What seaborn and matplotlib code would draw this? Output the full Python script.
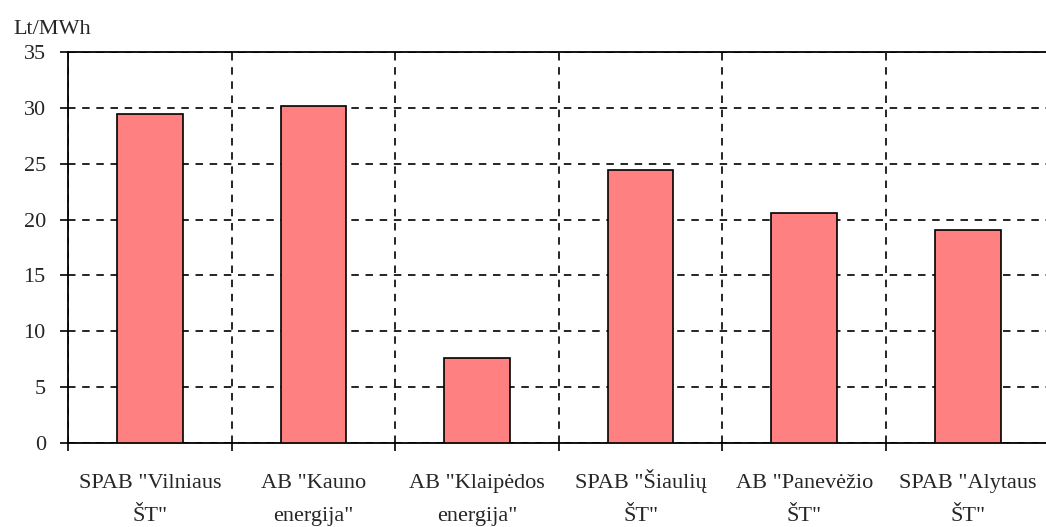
import numpy as np
import pandas as pd
import matplotlib
matplotlib.use('Agg')
import matplotlib.pyplot as plt
import seaborn as sns

# data
companies = ['SPAB "Vilniaus\nŠT"', 'AB "Kauno\nenergija"', 'AB "Klaipėdos\nenergija"',
             'SPAB "Šiaulių\nŠT"', 'AB "Panevėžio\nŠT"', 'SPAB "Alytaus\nŠT"']
values = [29.45, 30.2, 7.65, 24.45, 20.55, 19.1]
y_ticks = [0, 5, 10, 15, 20, 25, 30, 35]
unit_label = 'Lt/MWh'

W, H = 1046, 527
FS = 16

sns.set_style('white')
plt.rcParams['font.family'] = ['Liberation Serif', 'DejaVu Serif']

df = pd.DataFrame({'company': companies, 'value': values})

fig = plt.figure(figsize=(W / 100, H / 100), dpi=100)
ax = fig.add_axes([68 / W, 84 / H, 981.6 / W, 391 / H])

sns.barplot(data=df, x='company', y='value', color='#FF8080', saturation=1,
            edgecolor='black', linewidth=1.2, width=0.4, ax=ax, zorder=3)

ax.set_ylim(0, 35)
ax.set_xlim(-0.5, len(companies) - 0.5)
ax.set_yticks(y_ticks)
ax.set_yticklabels([str(t) for t in y_ticks], fontsize=FS)

# ticks and vertical grid sit on category boundaries
bounds = np.arange(len(companies) + 1) - 0.5
ax.set_xticks(bounds)
ax.set_xticklabels([''] * len(bounds))
ax.tick_params(axis='x', length=6, width=1.2, direction='out', color='black')
ax.tick_params(axis='y', length=6, width=1.2, direction='out', color='black', pad=10)
ax.xaxis.set_ticks_position('bottom')
ax.yaxis.set_ticks_position('left')

# category labels, one text per line so accents don't shift the baselines
lbl_tr = matplotlib.transforms.blended_transform_factory(ax.transData, fig.transFigure)
for i, name in enumerate(companies):
    for line, base_px in zip(name.split('\n'), [488, 521]):
        ax.text(i, 1 - base_px / H, line, fontsize=FS, ha='center', va='baseline',
                transform=lbl_tr)

ax.grid(True, which='major', color='black', linestyle=(0, (4.5, 4)), linewidth=1.2, zorder=1)
ax.set_axisbelow(True)

ax.set_xlabel('')
ax.set_ylabel('')
for side in ['left', 'bottom', 'top']:
    ax.spines[side].set_color('black')
    ax.spines[side].set_linewidth(1.3)
ax.spines['right'].set_visible(False)

fig.text(13 / W, 1 - 34 / H, unit_label, fontsize=FS, va='baseline', ha='left')

fig.savefig('out.png', dpi=100)
